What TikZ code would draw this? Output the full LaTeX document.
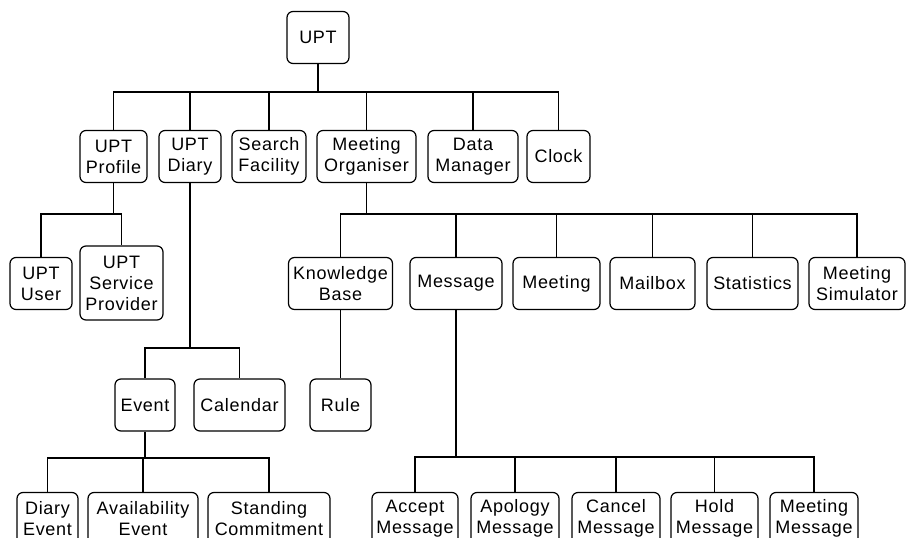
\documentclass[tikz,border=0pt]{standalone}
\usepackage{fontspec}
\setmainfont[LetterSpace=4]{Liberation Sans}
\usepackage{tikz}

\begin{document}
\begin{tikzpicture}[x=1pt, y=-1pt,
    obj/.style={draw, line width=1.2pt, rounded corners=6pt, minimum width=#1,
      minimum height=52pt, inner sep=0pt, align=center,
      font=\fontsize{18}{21}\selectfont},
    link/.style={line width=1.2pt}]
  \useasboundingbox (0,0) rectangle (906,538);
  \clip (0,0) rectangle (906,538);

  % top
  \node[obj=62] (upt) at (318,37.5) {UPT};

  % second row
  \node[obj=67] (profile) at (113.5,156.5) {UPT\\Profile};
  \node[obj=62] (diary) at (190,156.5) {UPT\\Diary};
  \node[obj=74] (search) at (269,156.5) {Search\\Facility};
  \node[obj=99] (organiser) at (366.5,156.5) {Meeting\\Organiser};
  \node[obj=90] (datamgr) at (473,156.5) {Data\\Manager};
  \node[obj=63] (clock) at (558.5,156.5) {Clock};

  % third row
  \node[obj=62] (user) at (41,283.5) {UPT\\User};
  \node[obj=83, minimum height=74pt] (provider) at (121.5,283) {UPT\\Service\\Provider};
  \node[obj=104] (knowledge) at (340.5,283.5) {Knowledge\\Base};
  \node[obj=92] (message) at (456,283.5) {Message};
  \node[obj=87] (meeting) at (556.5,283.5) {Meeting};
  \node[obj=85] (mailbox) at (652.5,283.5) {Mailbox};
  \node[obj=91] (statistics) at (752.5,283.5) {Statistics};
  \node[obj=96] (simulator) at (857,283.5) {Meeting\\Simulator};

  % fourth row
  \node[obj=60] (event) at (145,405) {Event};
  \node[obj=91] (calendar) at (239.5,405) {Calendar};
  \node[obj=61] (rule) at (340.5,405) {Rule};

  % bottom row
  \node[obj=61] (diaryevent) at (47.5,518.5) {Diary\\Event};
  \node[obj=110] (availability) at (143,518.5) {Availability\\Event};
  \node[obj=122] (standing) at (269,518.5) {Standing\\Commitment};
  \node[obj=86] (accept) at (415,518.5) {Accept\\Message};
  \node[obj=88] (apology) at (515,518.5) {Apology\\Message};
  \node[obj=88] (cancel) at (616,518.5) {Cancel\\Message};
  \node[obj=87] (hold) at (714.5,518.5) {Hold\\Message};
  \node[obj=88] (meetingmsg) at (814,518.5) {Meeting\\Message};

  % junctions
  \coordinate (j0) at (318,92);
  \coordinate (j1) at (113.5,214);
  \coordinate (j2) at (190,348);
  \coordinate (j3) at (145,458);
  \coordinate (j4) at (366.5,214);
  \coordinate (j5) at (456,457);

  \draw[link] (upt.south) -- (j0);
  \foreach \c in {profile,diary,search,organiser,datamgr,clock}
    \draw[link] (j0) -| (\c.north);
  \draw[link] (profile.south) -- (j1);
  \foreach \c in {user,provider}
    \draw[link] (j1) -| (\c.north);
  \draw[link] (diary.south) -- (j2);
  \foreach \c in {event,calendar}
    \draw[link] (j2) -| (\c.north);
  \draw[link] (event.south) -- (j3);
  \foreach \c in {diaryevent,availability,standing}
    \draw[link] (j3) -| (\c.north);
  \draw[link] (organiser.south) -- (j4);
  \foreach \c in {knowledge,message,meeting,mailbox,statistics,simulator}
    \draw[link] (j4) -| (\c.north);
  \draw[link] (knowledge.south) -- (rule.north);
  \draw[link] (message.south) -- (j5);
  \foreach \c in {accept,apology,cancel,hold,meetingmsg}
    \draw[link] (j5) -| (\c.north);
\end{tikzpicture}
\end{document}
